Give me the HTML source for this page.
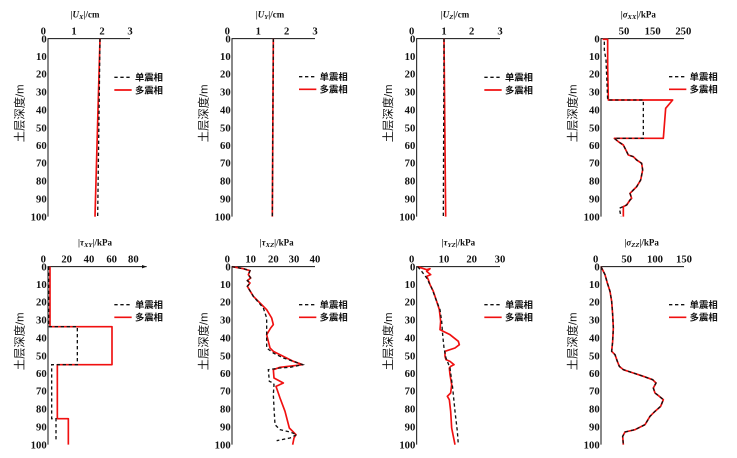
<!DOCTYPE html>
<html><head><meta charset="utf-8"><style>
html,body{margin:0;padding:0;background:#fff;}
svg{display:block;}
.t{font-family:"Liberation Serif",serif;font-size:32px;fill:#111;font-weight:bold;}
.ti{font-family:"Liberation Serif",serif;font-size:27px;fill:#111;font-weight:bold;}
.c{font-family:"Liberation Sans","Noto Sans CJK SC",sans-serif;font-size:28px;fill:#111;font-weight:bold;}
.yl{font-family:"Liberation Sans","Noto Sans CJK SC",sans-serif;font-size:34px;fill:#111;}
.ax{stroke:#111;stroke-width:3;fill:none;}
.r{stroke:#f01010;stroke-width:5;fill:none;stroke-linejoin:round;}
.d{stroke:#111;stroke-width:4;fill:none;stroke-dasharray:10,8;}
</style></head><body>
<svg width="737" height="458" viewBox="0 0 2211 1374" xmlns="http://www.w3.org/2000/svg">
<defs>
<g id="ylab">
<text class="t" text-anchor="end" x="0" y="127">0</text>
<text class="t" text-anchor="end" x="0" y="180">10</text>
<text class="t" text-anchor="end" x="0" y="233">20</text>
<text class="t" text-anchor="end" x="0" y="287">30</text>
<text class="t" text-anchor="end" x="0" y="340">40</text>
<text class="t" text-anchor="end" x="0" y="394">50</text>
<text class="t" text-anchor="end" x="0" y="447">60</text>
<text class="t" text-anchor="end" x="0" y="500">70</text>
<text class="t" text-anchor="end" x="0" y="554">80</text>
<text class="t" text-anchor="end" x="0" y="607">90</text>
<text class="t" text-anchor="end" x="0" y="661">100</text>
<text class="yl" transform="translate(0,340) rotate(-90)" x="0" y="-70" text-anchor="middle">土层深度/m</text>
</g>
<g id="leg">
<line class="d" x1="0" y1="0" x2="52" y2="0"/>
<text class="c" x="62" y="10">单震相</text>
<line class="r" x1="0" y1="38" x2="52" y2="38"/>
<text class="c" x="62" y="48">多震相</text>
</g>
</defs>

<!-- TL quadrant -->
<g>
<path class="ax" d="M144,650 V116 H390"/>
<use href="#ylab" x="140"/>
<text class="t" text-anchor="middle" x="130" y="104">0</text>
<text class="t" text-anchor="middle" x="222" y="104">1</text>
<text class="t" text-anchor="middle" x="306" y="104">2</text>
<text class="t" text-anchor="middle" x="390" y="104">3</text>
<text class="ti" text-anchor="middle" x="255" y="52">|<tspan font-style="italic">U</tspan><tspan font-style="italic" font-size="20" dy="5">X</tspan><tspan dy="-5">|/cm</tspan></text>
<use href="#leg" x="343" y="232"/>
<path class="r" d="M300,116 L285,650"/>
<path class="d" d="M300,116 L293,650"/>
<path class="ax" d="M696,650 V116 H945"/>
<use href="#ylab" x="692"/>
<text class="t" text-anchor="middle" x="682" y="104">0</text>
<text class="t" text-anchor="middle" x="775" y="104">1</text>
<text class="t" text-anchor="middle" x="860" y="104">2</text>
<text class="t" text-anchor="middle" x="945" y="104">3</text>
<text class="ti" text-anchor="middle" x="810" y="52">|<tspan font-style="italic">U</tspan><tspan font-style="italic" font-size="20" dy="5">Y</tspan><tspan dy="-5">|/cm</tspan></text>
<use href="#leg" x="897" y="230"/>
<path class="r" d="M820,116 L817,650"/>
<path class="d" d="M820,116 L817,650"/>
</g>

<!-- TR quadrant -->
<g transform="translate(1110,0)">
<path class="ax" d="M140,650 V116 H390"/>
<use href="#ylab" x="136"/>
<text class="t" text-anchor="middle" x="125" y="104">0</text>
<text class="t" text-anchor="middle" x="222" y="104">1</text>
<text class="t" text-anchor="middle" x="305" y="104">2</text>
<text class="t" text-anchor="middle" x="390" y="104">3</text>
<text class="ti" text-anchor="middle" x="255" y="52">|<tspan font-style="italic">U</tspan><tspan font-style="italic" font-size="20" dy="5">Z</tspan><tspan dy="-5">|/cm</tspan></text>
<use href="#leg" x="343" y="232"/>
<path class="r" d="M222,116 L227,650"/>
<path class="d" d="M222,116 L220,650"/>
<path class="ax" d="M693,650 V116 H942"/>
<use href="#ylab" x="689"/>
<text class="t" text-anchor="middle" x="762" y="104">50</text>
<text class="t" text-anchor="middle" x="848" y="104">150</text>
<text class="t" text-anchor="middle" x="940" y="104">250</text>
<text class="ti" text-anchor="middle" x="805" y="52">|<tspan font-style="italic">σ</tspan><tspan font-style="italic" font-size="20" dy="5">XX</tspan><tspan dy="-5">|/kPa</tspan></text>
<use href="#leg" x="897" y="230"/>
<path class="r" d="M698,118 L713,118 L713,200 L715,300 L908,300 L887,325 L880,415 L733,415 L745,425 L760,435 L770,455 L775,465 L790,470 L800,480 L815,490 L818,510 L812,540 L800,560 L790,570 L780,580 L785,595 L780,600 L770,615 L760,620 L760,650"/>
<path class="d" d="M703,125 L703,150 L708,180 L713,300 L820,300 L820,415 L733,415 L745,425 L760,435 L770,455 L775,465 L790,470 L800,480 L815,490 L818,510 L812,540 L800,560 L790,570 L780,580 L785,595 L780,600 L770,615 L748,625 L753,650"/>
</g>

<!-- BL quadrant -->
<g transform="translate(0,684)">
<path class="ax" d="M144,650 V116 H440"/>
<path d="M440,116 l-14,-5 v10 z" fill="#111"/>
<use href="#ylab" x="140"/>
<text class="t" text-anchor="middle" x="130" y="104">0</text>
<text class="t" text-anchor="middle" x="200" y="104">20</text>
<text class="t" text-anchor="middle" x="267" y="104">40</text>
<text class="t" text-anchor="middle" x="335" y="104">60</text>
<text class="t" text-anchor="middle" x="400" y="104">80</text>
<text class="ti" text-anchor="middle" x="285" y="52">|<tspan font-style="italic">τ</tspan><tspan font-style="italic" font-size="20" dy="5">XY</tspan><tspan dy="-5">|/kPa</tspan></text>
<use href="#leg" x="343" y="230"/>
<path class="r" d="M150,116 L150,296 L336,296 L336,410 L172,410 L172,572 L205,572 L205,650"/>
<path class="d" d="M146,116 L146,296 L232,296 L232,410 L155,410 L155,572 L168,572 L168,640"/>
<path class="ax" d="M696,650 V116 H945"/>
<use href="#ylab" x="692"/>
<text class="t" text-anchor="middle" x="682" y="104">0</text>
<text class="t" text-anchor="middle" x="752" y="104">10</text>
<text class="t" text-anchor="middle" x="820" y="104">20</text>
<text class="t" text-anchor="middle" x="882" y="104">30</text>
<text class="t" text-anchor="middle" x="945" y="104">40</text>
<text class="ti" text-anchor="middle" x="830" y="52">|<tspan font-style="italic">τ</tspan><tspan font-style="italic" font-size="20" dy="5">XZ</tspan><tspan dy="-5">|/kPa</tspan></text>
<use href="#leg" x="897" y="230"/>
<path class="r" d="M696,116 L730,122 L750,128 L745,140 L752,150 L742,158 L750,165 L742,175 L748,185 L760,205 L780,225 L800,245 L815,270 L820,290 L812,300 L800,320 L805,340 L810,360 L820,370 L850,385 L880,400 L908,410 L840,418 L820,425 L822,450 L850,465 L828,475 L840,510 L855,550 L868,600 L888,620 L882,630 L878,650"/>
<path class="d" d="M696,116 L730,122 L750,128 L745,140 L752,150 L742,158 L750,165 L742,175 L748,185 L760,205 L790,240 L800,270 L800,360 L820,375 L850,390 L880,400 L908,410 L870,418 L840,420 L805,425 L808,460 L820,465 L822,470 L820,500 L822,540 L825,590 L840,605 L870,612 L890,620 L870,630 L830,638"/>
</g>

<!-- BR quadrant -->
<g transform="translate(1110,684)">
<path class="ax" d="M140,650 V116 H390"/>
<use href="#ylab" x="136"/>
<text class="t" text-anchor="middle" x="125" y="104">0</text>
<text class="t" text-anchor="middle" x="222" y="104">10</text>
<text class="t" text-anchor="middle" x="305" y="104">20</text>
<text class="t" text-anchor="middle" x="390" y="104">30</text>
<text class="ti" text-anchor="middle" x="265" y="52">|<tspan font-style="italic">τ</tspan><tspan font-style="italic" font-size="20" dy="5">YZ</tspan><tspan dy="-5">|/kPa</tspan></text>
<use href="#leg" x="343" y="230"/>
<path class="r" d="M143,116 L170,125 L180,122 L170,130 L182,140 L170,145 L175,155 L180,170 L190,190 L200,220 L208,245 L212,280 L210,305 L220,310 L240,320 L265,340 L268,350 L255,360 L225,370 L225,385 L228,395 L240,400 L252,410 L242,415 L238,420 L240,440 L245,470 L242,495 L232,505 L238,515 L242,550 L245,600 L255,650"/>
<path class="d" d="M143,116 L155,130 L170,150 L185,180 L200,220 L210,245 L215,280 L218,320 L222,360 L228,390 L240,420 L248,480 L255,550 L262,610 L265,650"/>
<path class="ax" d="M693,650 V116 H942"/>
<use href="#ylab" x="689"/>
<text class="t" text-anchor="middle" x="677" y="104">0</text>
<text class="t" text-anchor="middle" x="770" y="104">50</text>
<text class="t" text-anchor="middle" x="855" y="104">100</text>
<text class="t" text-anchor="middle" x="942" y="104">150</text>
<text class="ti" text-anchor="middle" x="815" y="52">|<tspan font-style="italic">σ</tspan><tspan font-style="italic" font-size="20" dy="5">ZZ</tspan><tspan dy="-5">|/kPa</tspan></text>
<use href="#leg" x="897" y="230"/>
<path class="r" d="M693,116 L705,140 L712,165 L720,190 L725,220 L728,260 L730,300 L728,340 L725,370 L735,380 L742,400 L748,415 L760,425 L790,435 L820,445 L848,455 L858,465 L850,480 L855,495 L868,505 L880,515 L872,535 L855,550 L840,565 L825,590 L795,605 L765,612 L758,625 L760,650"/>
<path class="d" d="M693,116 L705,140 L712,165 L720,190 L725,220 L728,260 L730,300 L728,340 L725,370 L735,380 L742,400 L748,415 L760,425 L790,435 L820,445 L848,455 L858,465 L850,480 L855,495 L868,505 L880,515 L872,535 L855,550 L840,565 L825,590 L795,605 L765,612 L758,625 L760,650"/>
</g>
</svg>
</body></html>
